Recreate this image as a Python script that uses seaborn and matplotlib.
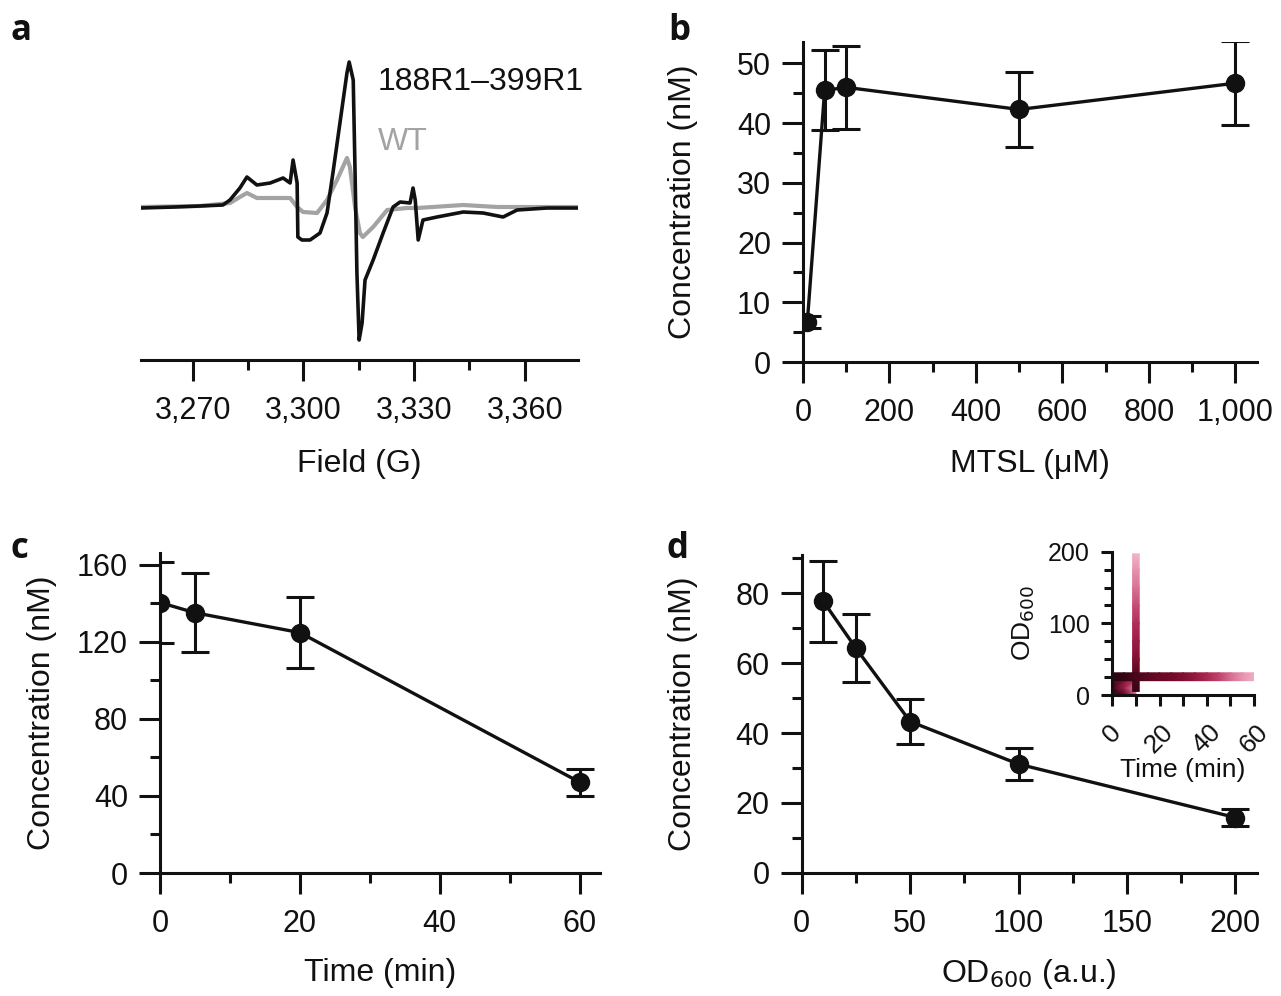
"""
EPR spectrum and spin-label concentration panels (a-d) with OD600 inset
"""

import numpy as np
import pandas as pd
import matplotlib
matplotlib.use('Agg')
import matplotlib.pyplot as plt
from matplotlib.ticker import MultipleLocator, FuncFormatter
from matplotlib.colors import LinearSegmentedColormap
import seaborn as sns

sns.set_theme(style='ticks')
plt.rcParams['font.family'] = ['Liberation Sans', 'DejaVu Sans']

# ---- panel a: EPR spectra (field in G, intensity in a.u.) ----
mut_field = [3256.0, 3265.2, 3272.0, 3278.2, 3280.1, 3282.8, 3284.7, 3287.4, 3291.0,
             3294.5, 3296.4, 3297.2, 3298.3, 3298.5, 3299.6, 3301.8, 3304.5, 3306.4,
             3308.0, 3309.9, 3311.8, 3312.4, 3313.5, 3314.0, 3314.5, 3315.1, 3315.9,
             3316.7, 3318.9, 3321.6, 3324.3, 3326.2, 3328.9, 3329.7, 3330.3, 3331.1,
             3332.4, 3336.2, 3343.3, 3348.7, 3354.1, 3357.9, 3366.0, 3374.4]
mut_int = [-0.2, -0.1, 0.0, 0.1, 0.6, 1.8, 2.9, 2.1, 2.3,
           2.8, 2.3, 4.6, 2.3, -3.1, -3.4, -3.4, -2.7, -0.7,
           3.3, 8.3, 13.3, 14.4, 12.6, 3.3, -6.7, -13.4, -11.7,
           -7.4, -5.4, -2.7, -0.1, 0.4, 0.3, 1.8, 0.6, -3.4,
           -1.4, -1.1, -0.6, -0.7, -1.1, -0.4, -0.2, -0.2]
wt_field = [3256.0, 3272.0, 3280.1, 3282.8, 3284.7, 3287.4, 3296.4, 3298.3, 3299.9,
            3303.7, 3306.4, 3309.1, 3311.8, 3312.6, 3314.0, 3315.3, 3316.1, 3318.9,
            3322.7, 3328.1, 3330.8, 3343.3, 3352.5, 3364.1, 3374.4]
wt_int = [-0.1, 0.0, 0.3, 0.9, 1.3, 0.8, 0.8, -0.1, -0.6,
          -0.7, 0.6, 2.6, 4.8, 3.9, -0.1, -2.7, -3.1, -2.1,
          -0.4, -0.2, -0.2, 0.1, -0.1, -0.1, -0.1]

# ---- panel b: MTSL titration ----
mtsl_um = [10, 50, 100, 500, 1000]
mtsl_conc = [6.7, 45.5, 46.0, 42.3, 46.7]
mtsl_err = [1.0, 6.7, 6.9, 6.3, 7.0]

# ---- panel c: time course ----
time_min = [0, 5, 20, 60]
time_conc = [140.3, 135.0, 124.7, 47.1]
time_err = [21.0, 20.4, 18.5, 7.0]

# ---- panel d: cell density ----
od600 = [10, 25, 50, 100, 200]
od_conc = [77.7, 64.3, 43.3, 31.1, 15.8]
od_err = [11.5, 9.8, 6.5, 4.6, 2.4]

# ---- panel d inset: OD600 vs time density bands ----
band_h_time = [0, 5, 10, 15, 20, 25, 30, 35, 40, 45, 50, 55, 60]
band_h_od = [20, 31]
band_h_val = [1.0, 0.97, 0.9, 0.85, 0.8, 0.77, 0.72, 0.65, 0.55, 0.45, 0.33, 0.22, 0.12]
band_v_time = [8.6, 11.4]
band_v_od = [5, 25, 50, 75, 100, 125, 150, 175, 197]
band_v_val = [0.95, 0.9, 0.72, 0.62, 0.52, 0.42, 0.32, 0.22, 0.1]
corner_time = [0, 5, 10]
corner_od = [0, 10, 20]
corner_val = [[1.0, 0.85, 0.35],
              [0.95, 0.6, 0.25],
              [0.9, 0.7, 0.5]]

W, H = 1281, 996
BLACK = '#111111'
GRAY = '#a3a3a3'
TICK = 22
LABEL = 23

fig = plt.figure(figsize=(W / 100, H / 100), dpi=100)


def add_axes_px(left, right, top, bottom):
    return fig.add_axes([left / W, 1 - bottom / H, (right - left) / W, (bottom - top) / H])


def style_axes(ax, major=15, minor=7, size=TICK, xpad=11, ypad=8):
    sns.despine(ax=ax)
    for side in ['left', 'bottom']:
        ax.spines[side].set_linewidth(2.2)
        ax.spines[side].set_color(BLACK)
    ax.tick_params(which='major', length=major, width=2.2, color=BLACK,
                   labelsize=size, labelcolor=BLACK)
    ax.tick_params(axis='x', which='major', pad=xpad)
    ax.tick_params(axis='y', which='major', pad=ypad)
    ax.tick_params(which='minor', length=minor, width=2.2, color=BLACK)


def plot_series(ax, x, y, err):
    ax.errorbar(x, y, yerr=err, fmt='none', ecolor=BLACK, elinewidth=2.2,
                capsize=10, capthick=2.2, zorder=2)
    sns.lineplot(x=x, y=y, ax=ax, color=BLACK, linewidth=2.4, estimator=None,
                 marker='o', markersize=14, markeredgewidth=0, zorder=3)


def label_px(ax, box, xlab_top=None, ylab_right=None):
    # box = (left, right, top, bottom) in pixels
    l, r, t, b = box
    if xlab_top is not None:
        ax.xaxis.set_label_coords(0.5, (b - xlab_top) / (b - t))
    if ylab_right is not None:
        ax.yaxis.set_label_coords((ylab_right - l) / (r - l), 0.5)


thousands = FuncFormatter(lambda v, p: f'{v:,.0f}')

# ---------------- a ----------------
box_a = (141, 578, 45, 360)
ax_a = add_axes_px(*box_a)
style_axes(ax_a)
ax_a.spines['left'].set_visible(False)
ax_a.set_yticks([])
sns.lineplot(x=wt_field, y=wt_int, ax=ax_a, color=GRAY, linewidth=3.0,
             estimator=None, sort=False)
sns.lineplot(x=mut_field, y=mut_int, ax=ax_a, color=BLACK, linewidth=2.6,
             estimator=None, sort=False)
ax_a.set_xlim(3256, 3374.4)
ax_a.set_ylim(-15.4, 16.1)
ax_a.set_xticks([3270, 3300, 3330, 3360])
ax_a.xaxis.set_minor_locator(MultipleLocator(15))
ax_a.xaxis.set_major_formatter(thousands)
ax_a.set_xlabel('Field (G)', fontsize=LABEL, color=BLACK)
ax_a.set_ylabel('Intensity (a.u.)', fontsize=LABEL, color=BLACK)
label_px(ax_a, box_a, xlab_top=449, ylab_right=98)
ax_a.text(3320.2, 12.4, '188R1\u2013399R1', fontsize=LABEL, color=BLACK, va='center')
ax_a.text(3320.2, 6.4, 'WT', fontsize=LABEL, color=GRAY, va='center')

# ---------------- b ----------------
box_b = (803, 1257, 42, 362)
ax_b = add_axes_px(*box_b)
style_axes(ax_b)
plot_series(ax_b, mtsl_um, mtsl_conc, mtsl_err)
ax_b.set_xlim(0, 1050)
ax_b.set_ylim(0, 53.6)
ax_b.set_xticks([0, 200, 400, 600, 800, 1000])
ax_b.xaxis.set_minor_locator(MultipleLocator(100))
ax_b.set_yticks([0, 10, 20, 30, 40, 50])
ax_b.yaxis.set_minor_locator(MultipleLocator(5))
ax_b.xaxis.set_major_formatter(thousands)
ax_b.set_xlabel('MTSL (\u03bcM)', fontsize=LABEL, color=BLACK)
ax_b.set_ylabel('Concentration (nM)', fontsize=LABEL, color=BLACK)
label_px(ax_b, box_b, xlab_top=449, ylab_right=698)

# ---------------- c ----------------
box_c = (160, 600, 553, 873)
ax_c = add_axes_px(*box_c)
style_axes(ax_c)
plot_series(ax_c, time_min, time_conc, time_err)
ax_c.set_xlim(0, 62.9)
ax_c.set_ylim(0, 166)
ax_c.set_xticks([0, 20, 40, 60])
ax_c.xaxis.set_minor_locator(MultipleLocator(10))
ax_c.set_yticks([0, 40, 80, 120, 160])
ax_c.yaxis.set_minor_locator(MultipleLocator(20))
ax_c.set_xlabel('Time (min)', fontsize=LABEL, color=BLACK)
ax_c.set_ylabel('Concentration (nM)', fontsize=LABEL, color=BLACK)
label_px(ax_c, box_c, xlab_top=958, ylab_right=57)

# ---------------- d ----------------
box_d = (801.7, 1256.7, 555, 872.7)
ax_d = add_axes_px(*box_d)
style_axes(ax_d)
plot_series(ax_d, od600, od_conc, od_err)
ax_d.set_xlim(0, 209.8)
ax_d.set_ylim(0, 91)
ax_d.set_xticks([0, 50, 100, 150, 200])
ax_d.xaxis.set_minor_locator(MultipleLocator(25))
ax_d.set_yticks([0, 20, 40, 60, 80])
ax_d.yaxis.set_minor_locator(MultipleLocator(10))
ax_d.set_xlabel('OD$_{600}$ (a.u.)', fontsize=LABEL, color=BLACK)
ax_d.set_ylabel('Concentration (nM)', fontsize=LABEL, color=BLACK)
label_px(ax_d, box_d, xlab_top=957, ylab_right=698)

# ---------------- d inset ----------------
cmap = LinearSegmentedColormap.from_list(
    'od', ['#f9d0dc', '#e58aa8', '#b6305c', '#7a0a2c', '#2a0410'])
box_i = (1112.3, 1254, 551.7, 695)
ax_i = add_axes_px(*box_i)
style_axes(ax_i, major=8, minor=6, size=18, xpad=10, ypad=8)
ax_i.pcolormesh(corner_time, corner_od, np.array(corner_val), cmap=cmap,
                vmin=0, vmax=1, shading='gouraud')
ax_i.pcolormesh(band_v_time, band_v_od, np.tile(band_v_val, (2, 1)).T, cmap=cmap,
                vmin=0, vmax=1, shading='gouraud')
ax_i.pcolormesh(band_h_time, band_h_od, np.tile(band_h_val, (2, 1)), cmap=cmap,
                vmin=0, vmax=1, shading='gouraud')
ax_i.set_xlim(0, 60)
ax_i.set_ylim(0, 200)
ax_i.set_xticks([0, 20, 40, 60])
ax_i.xaxis.set_minor_locator(MultipleLocator(10))
ax_i.set_yticks([0, 100, 200])
ax_i.yaxis.set_minor_locator(MultipleLocator(25))
ax_i.tick_params(axis='x', which='major', rotation=45, labelsize=19)
ax_i.tick_params(axis='x', which='both', length=8)
ax_i.set_xlabel('Time (min)', fontsize=19, color=BLACK)
ax_i.set_ylabel('OD$_{600}$', fontsize=19, color=BLACK)
label_px(ax_i, box_i, xlab_top=758, ylab_right=1037)

# ---------------- panel letters ----------------
for letter, (px, py) in zip('abcd', [(10, 13), (668, 13), (10, 531), (667, 531)]):
    fig.text(px / W, 1 - py / H, letter, fontsize=25, fontweight='bold',
             family=['Open Sans', 'DejaVu Sans'], va='top', ha='left', color=BLACK)

fig.savefig('out.png', dpi=100, facecolor='white')
